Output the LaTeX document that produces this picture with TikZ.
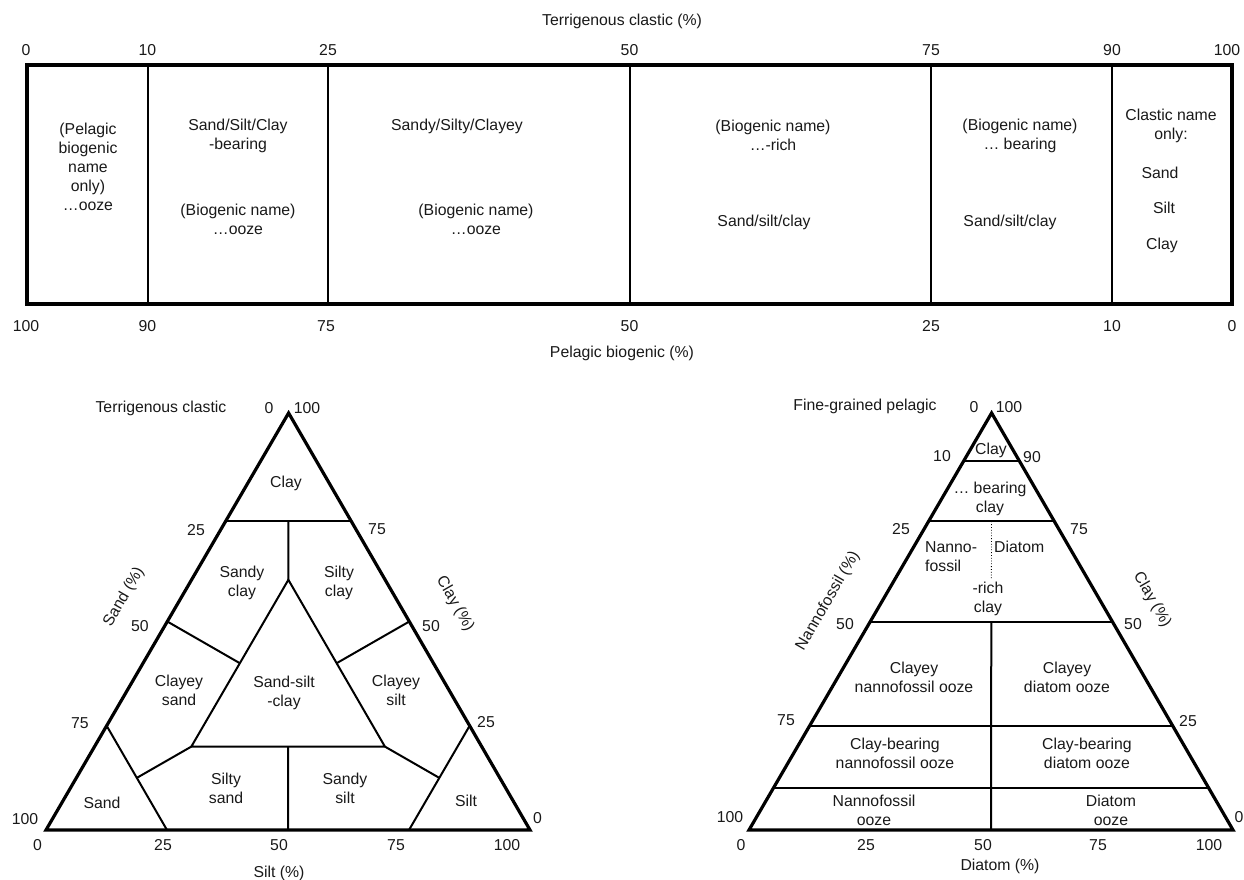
\documentclass[tikz,border=0pt]{standalone}
\usepackage{fontspec}
\setmainfont{Liberation Sans}
\begin{document}
\begin{tikzpicture}[x=1pt,y=-1pt,
  every node/.style={font=\fontsize{15.8}{19}\selectfont, inner sep=0pt, align=center, text=black!90},
  frame/.style={line width=3.2pt, line join=miter},
  divider/.style={line width=2pt},
  dotline/.style={line width=0.8pt, dotted}]
\useasboundingbox (0,0) rectangle (1244,880);

% ---------- top bar ----------
\node (ttl) at (622,21) {Terrigenous clastic (\%)};
\node (btl) at (622,353) {Pelagic biogenic (\%)};
\draw[frame] (27,65) rectangle (1232,304);
\foreach \x in {147.5,328,629.5,931,1111.5}{\draw[divider] (\x,65) -- (\x,304);}
\foreach \x/\t in {26/0,147.5/10,328/25,629.5/50,931/75,1112/90,1227/100}{\node at (\x,50) {\t};}
\foreach \x/\t in {26/100,147.5/90,326/75,629.5/50,931/25,1112/10,1232/0}{\node at (\x,326) {\t};}

\node (c1) at (88,167) {(Pelagic\\biogenic\\name\\only)\\…ooze};
\node (c2a) at (238,135.5) {Sand/Silt/Clay\\-bearing};
\node (c2b) at (238,219.5) {(Biogenic name)\\…ooze};
\node (c3a) at (457,126) {Sandy/Silty/Clayey};
\node (c3b) at (476,219.5) {(Biogenic name)\\…ooze};
\node (c4a) at (773,135.5) {(Biogenic name)\\…-rich};
\node (c4b) at (764,222) {Sand/silt/clay};
\node (c5a) at (1020,135.5) {(Biogenic name)\\… bearing};
\node (c5b) at (1010,222) {Sand/silt/clay};
\node (c6a) at (1171,125.5) {Clastic name\\only:};
\node (c6b) at (1160,172.5) {Sand};
\node (c6c) at (1164,208) {Silt};
\node (c6d) at (1162,245) {Clay};

% ---------- left triangle ----------
\coordinate (LA) at (288.6,413);
\coordinate (LL) at (46,830);
\coordinate (LR) at (530,830);
\draw[divider] (barycentric cs:LL=0.26,LR=0,LA=0.74) -- (barycentric cs:LL=0,LR=0.26,LA=0.74);
\draw[divider] (barycentric cs:LL=0.13,LR=0.13,LA=0.74) -- (barycentric cs:LL=0.2,LR=0.2,LA=0.6);
\draw[divider, line join=miter] (barycentric cs:LL=0.2,LR=0.2,LA=0.6) -- (barycentric cs:LL=0.6,LR=0.2,LA=0.2) -- (barycentric cs:LL=0.2,LR=0.6,LA=0.2) -- cycle;
\draw[divider] (barycentric cs:LL=0.5,LR=0,LA=0.5) -- (barycentric cs:LL=0.4,LR=0.2,LA=0.4);
\draw[divider] (barycentric cs:LL=0,LR=0.5,LA=0.5) -- (barycentric cs:LL=0.2,LR=0.4,LA=0.4);
\draw[divider] (barycentric cs:LL=0.75,LR=0,LA=0.25) -- (barycentric cs:LL=0.75,LR=0.25,LA=0);
\draw[divider] (barycentric cs:LL=0.6,LR=0.2,LA=0.2) -- (barycentric cs:LL=0.75,LR=0.125,LA=0.125);
\draw[divider] (barycentric cs:LL=0,LR=0.75,LA=0.25) -- (barycentric cs:LL=0.25,LR=0.75,LA=0);
\draw[divider] (barycentric cs:LL=0.2,LR=0.6,LA=0.2) -- (barycentric cs:LL=0.125,LR=0.75,LA=0.125);
\draw[divider] (barycentric cs:LL=0.4,LR=0.4,LA=0.2) -- (barycentric cs:LL=0.5,LR=0.5,LA=0);
\draw[frame] (LL) -- (LR) -- (LA) -- cycle;

\node (lt) at (161,408) {Terrigenous clastic};
\node at (269,408) {0};
\node at (307,408) {100};
\node at (196,530) {25};
\node at (377,529) {75};
\node at (140,626) {50};
\node at (431,626) {50};
\node at (80,723) {75};
\node at (486,722) {25};
\node at (25,819) {100};
\node at (537.5,818) {0};
\foreach \x/\t in {37.5/0,163/25,279/50,396/75,507/100}{\node at (\x,845) {\t};}
\node (lsilt) at (279,873) {Silt (\%)};
\node[rotate=60] (lsand) at (124,597) {Sand (\%)};
\node[rotate=-60] (lclay) at (455,604) {Clay (\%)};

\node (r1) at (286,483) {Clay};
\node (r2) at (242,582.5) {Sandy\\clay};
\node (r3) at (339,582.5) {Silty\\clay};
\node (r4) at (179,690.5) {Clayey\\sand};
\node (r5) at (284,693) {Sand-silt\\-clay};
\node (r6) at (396,690.5) {Clayey\\silt};
\node (r7) at (226,788) {Silty\\sand};
\node (r8) at (345,788) {Sandy\\silt};
\node (r9) at (102,803) {Sand};
\node (r10) at (466,801) {Silt};

% ---------- right triangle ----------
\coordinate (RA) at (991.6,413);
\coordinate (RL) at (749,830);
\coordinate (RR) at (1233,830);
\foreach \c in {0.885,0.74,0.5,0.25,0.1}{
  \pgfmathsetmacro{\r}{1-\c}
  \draw[divider] (barycentric cs:RL=\r,RR=0,RA=\c) -- (barycentric cs:RL=0,RR=\r,RA=\c);
}
\draw[divider] (barycentric cs:RL=0.25,RR=0.25,RA=0.5) -- (barycentric cs:RL=0.5,RR=0.5,RA=0);
\draw[dotline] (barycentric cs:RL=0.13,RR=0.13,RA=0.74) -- (barycentric cs:RL=0.2,RR=0.2,RA=0.6);
\draw[frame] (RL) -- (RR) -- (RA) -- cycle;

\node (rt) at (865,406) {Fine-grained pelagic};
\node at (974,407) {0};
\node at (1009,407) {100};
\node at (942,456) {10};
\node at (1032,457) {90};
\node at (901,529) {25};
\node at (1079,529) {75};
\node at (845,624) {50};
\node at (1133,624) {50};
\node at (786,720) {75};
\node at (1188,721) {25};
\node at (730,817) {100};
\node at (1239,817) {0};
\foreach \x/\t in {741/0,866/25,983/50,1098/75,1209/100}{\node at (\x,845) {\t};}
\node (rdia) at (1000,866) {Diatom (\%)};
\node[rotate=60] (rnan) at (828,601) {Nannofossil (\%)};
\node[rotate=-60] (rclay) at (1152,600) {Clay (\%)};

\node (q1) at (991,450) {Clay};
\node (q2) at (990,499) {… bearing\\clay};
\node[align=left, anchor=west] (q3) at (925,556.5) {Nanno-\\fossil};
\node[anchor=west] (q4) at (994,547) {Diatom};
\node (q5) at (988,599) {-rich\\clay};
\node (q6) at (914,677) {Clayey\\nannofossil ooze};
\node (q7) at (1067,677) {Clayey\\diatom ooze};
\node (q8) at (895,753.5) {Clay-bearing\\nannofossil ooze};
\node (q9) at (1087,753.5) {Clay-bearing\\diatom ooze};
\node (q10) at (874,810) {Nannofossil\\ooze};
\node (q11) at (1111,810) {Diatom\\ooze};
\end{tikzpicture}
\end{document}
